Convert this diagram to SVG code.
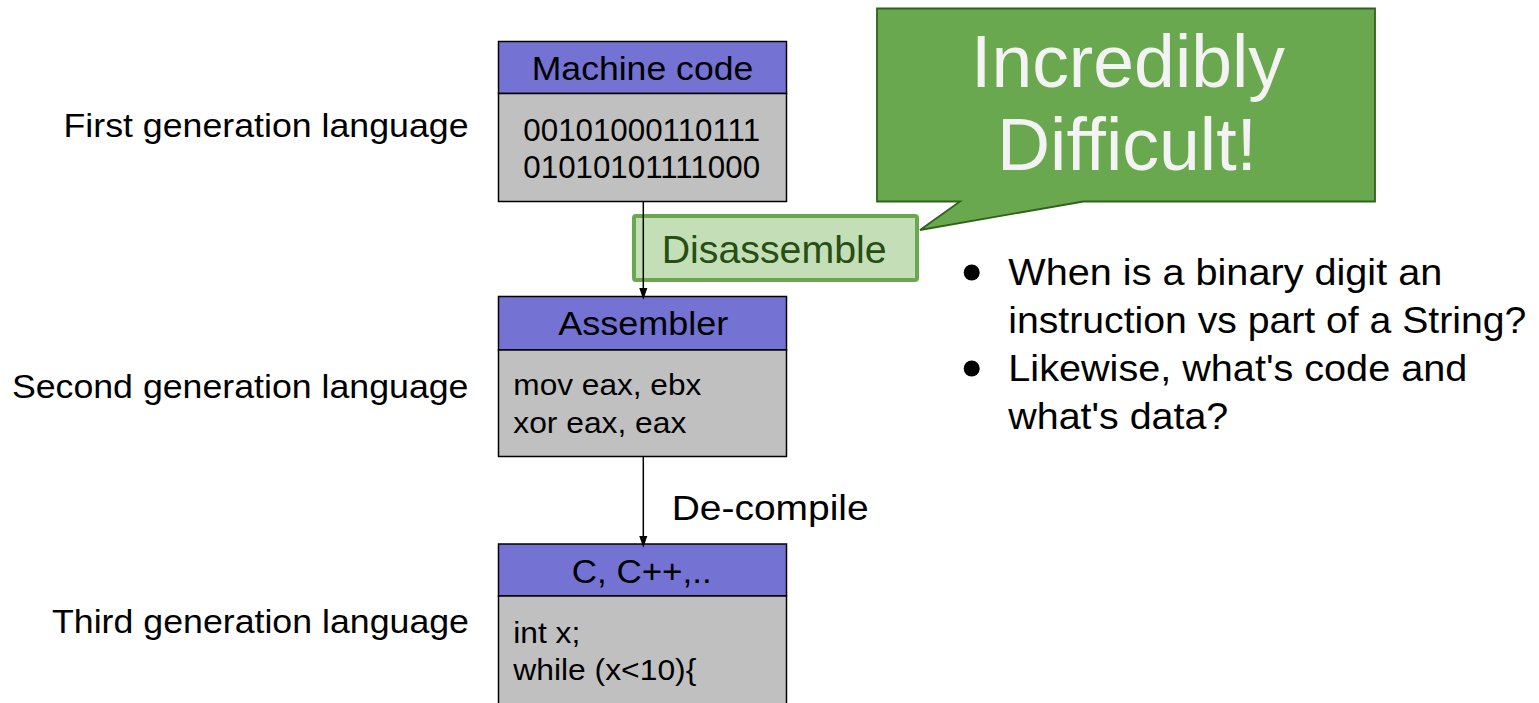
<svg xmlns="http://www.w3.org/2000/svg" width="1539" height="703" viewBox="0 0 1539 703">
<style>
text{font-family:"Liberation Sans",Arial,sans-serif;fill:#000}
.hdr{fill:#7472d2;stroke:#000;stroke-width:1.5}
.body{fill:#c0c0c0;stroke:#000;stroke-width:1.5}
.h{font-size:33px;text-anchor:middle}
.b{font-size:30px}
.bin{font-size:31px;text-anchor:middle}
.lbl{font-size:33px;text-anchor:end}
.bul{font-size:36px}
.conn{stroke:#000;stroke-width:1.5;fill:none}
</style>
<defs>
<marker id="arr" markerWidth="12" markerHeight="16" refX="11" refY="5.5" orient="auto" markerUnits="userSpaceOnUse" viewBox="0 0 16 11">
<path d="M0,0 L16,5.5 L0,11 Z" fill="#000"/>
</marker>
</defs>
<rect width="1539" height="703" fill="#fff"/>

<g id="label-first"><text class="lbl" x="468.5" y="137" textLength="405" lengthAdjust="spacingAndGlyphs">First generation language</text></g>
<g id="label-second"><text class="lbl" x="468.5" y="397.5" textLength="456.6" lengthAdjust="spacingAndGlyphs">Second generation language</text></g>
<g id="label-third"><text class="lbl" x="469" y="632.5" textLength="417" lengthAdjust="spacingAndGlyphs">Third generation language</text></g>

<g id="node-machine">
<rect class="hdr" x="498.5" y="41.5" width="288" height="52"/>
<rect class="body" x="498.5" y="93.5" width="288" height="108"/>
<text class="h" x="642.5" y="80" textLength="221.6" lengthAdjust="spacingAndGlyphs">Machine code</text>
<text class="bin" x="641.7" y="140.7" textLength="236.7" lengthAdjust="spacingAndGlyphs">00101000110111</text>
<text class="bin" x="641.7" y="178.3" textLength="236.7" lengthAdjust="spacingAndGlyphs">01010101111000</text>
</g>

<g id="node-assembler">
<rect class="hdr" x="498.5" y="296.5" width="288" height="53.5"/>
<rect class="body" x="498.5" y="350" width="288" height="106.5"/>
<text class="h" x="643.3" y="335" textLength="170" lengthAdjust="spacingAndGlyphs">Assembler</text>
<text class="b" x="513.3" y="395" textLength="188" lengthAdjust="spacingAndGlyphs">mov eax, ebx</text>
<text class="b" x="513.3" y="433.3" textLength="173" lengthAdjust="spacingAndGlyphs">xor eax, eax</text>
</g>

<g id="node-c">
<rect class="hdr" x="498.5" y="544" width="288" height="52"/>
<rect class="body" x="498.5" y="596" width="288" height="130"/>
<text class="h" x="641.7" y="583.3" textLength="140" lengthAdjust="spacingAndGlyphs">C, C++,..</text>
<text class="b" x="513.3" y="643.3" textLength="67" lengthAdjust="spacingAndGlyphs">int x;</text>
<text class="b" x="513.3" y="680" textLength="183" lengthAdjust="spacingAndGlyphs">while (x&lt;10){</text>
</g>

<g id="node-disassemble">
<rect x="634" y="216" width="283" height="64" fill="#c4dfb7" stroke="#6aa84f" stroke-width="4" rx="2"/>
<text x="661.7" y="263.3" font-size="39" style="fill:#274e13" textLength="225" lengthAdjust="spacingAndGlyphs">Disassemble</text>
</g>

<g id="node-callout">
<path d="M877,8.5 H1375 V201.5 H1083.3 L920,230 L960,201.5 H877 Z" fill="#6aa84f" stroke="#2f6318" stroke-width="1.8"/>
<text x="1128" y="87.3" font-size="74" text-anchor="middle" style="fill:#f3f3f3" textLength="314" lengthAdjust="spacingAndGlyphs">Incredibly</text>
<text x="1127" y="170" font-size="74" text-anchor="middle" style="fill:#f3f3f3" textLength="260" lengthAdjust="spacingAndGlyphs">Difficult!</text>
</g>

<g id="node-bullets">
<circle cx="971.7" cy="272.5" r="8"/>
<circle cx="971.7" cy="368.5" r="8"/>
<text class="bul" x="1008.3" y="285" textLength="434" lengthAdjust="spacingAndGlyphs">When is a binary digit an</text>
<text class="bul" x="1008.3" y="333" textLength="518" lengthAdjust="spacingAndGlyphs">instruction vs part of a String?</text>
<text class="bul" x="1008.3" y="381" textLength="459" lengthAdjust="spacingAndGlyphs">Likewise, what's code and</text>
<text class="bul" x="1008.3" y="429" textLength="220" lengthAdjust="spacingAndGlyphs">what's data?</text>
</g>

<g id="connectors">
<line class="conn" x1="643.3" y1="201.5" x2="643.3" y2="296" marker-end="url(#arr)"/>
<line class="conn" x1="643.3" y1="456.5" x2="643.3" y2="544" marker-end="url(#arr)"/>
<text x="671.7" y="520" font-size="35" textLength="197" lengthAdjust="spacingAndGlyphs">De-compile</text>
</g>
</svg>
